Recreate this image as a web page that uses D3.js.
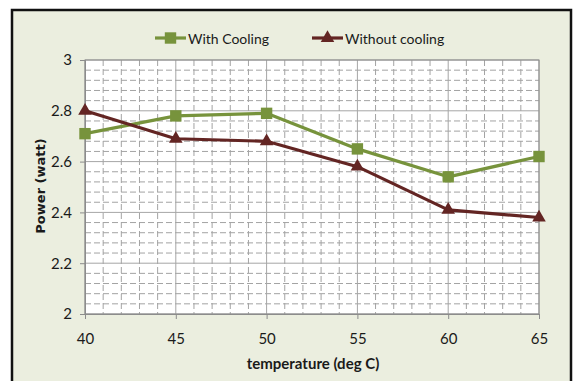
<!DOCTYPE html>
<html>
<head>
<meta charset="utf-8">
<script src="https://cdn.jsdelivr.net/npm/d3@7"></script>
<style>
	body { margin: 0; background: #fff; }
	text { fill: #1a1a1a; }
</style>
</head>
<body>
<div id="app"></div>
<script>
///////////////////////////////////////////////////////////////////////////
//////////////////////////// data /////////////////////////////////////////
///////////////////////////////////////////////////////////////////////////

const temperatures = [40, 45, 50, 55, 60, 65];
const withCooling = [2.71, 2.78, 2.79, 2.65, 2.54, 2.62];
const withoutCooling = [2.8, 2.69, 2.68, 2.58, 2.41, 2.38];
const seriesNames = ["With Cooling", "Without cooling"];
const yTicks = [2, 2.2, 2.4, 2.6, 2.8, 3];
const xTicks = [40, 45, 50, 55, 60, 65];

///////////////////////////////////////////////////////////////////////////
//////////////////////////// drawing function /////////////////////////////
///////////////////////////////////////////////////////////////////////////

const createChart = () => {
	let dimensions = {
		width: 577,
		height: 381,
		margin: { top: 60, right: 38, bottom: 67, left: 85 }
	};
	dimensions.boundedWidth =
		dimensions.width - dimensions.margin.left - dimensions.margin.right;
	dimensions.boundedHeight =
		dimensions.height - dimensions.margin.top - dimensions.margin.bottom;

	const colors = ["#77933c", "#632523"];
	const font = "Lato, 'Open Sans', sans-serif";

	const svg = d3
		.select("#app")
		.append("svg")
		.attr("width", dimensions.width)
		.attr("height", dimensions.height)
		.style("font-family", font);

	// chart frame
	svg
		.append("rect")
		.attr("x", 12)
		.attr("y", 10)
		.attr("width", 559)
		.attr("height", 385)
		.attr("fill", "#ebeedf")
		.attr("stroke", "#111")
		.attr("stroke-width", 2.5);

	const bounds = svg
		.append("g")
		.attr(
			"transform",
			`translate(${dimensions.margin.left},${dimensions.margin.top})`
		);

	//////////////////////////// scales ///////////////////////////////////////

	const xScale = d3
		.scaleLinear()
		.domain([40, 65])
		.range([0, dimensions.boundedWidth]);

	const yScale = d3
		.scaleLinear()
		.domain([2, 3])
		.range([dimensions.boundedHeight, 0]);

	//////////////////////////// grid /////////////////////////////////////////

	bounds
		.append("rect")
		.attr("width", dimensions.boundedWidth)
		.attr("height", dimensions.boundedHeight)
		.attr("fill", "#fff");

	const minorY = d3.range(2, 3.001, 0.04).filter((v) => !yTicks.some((t) => Math.abs(t - v) < 1e-6));
	const minorX = d3.range(40, 65.001, 1).filter((v) => v % 5 !== 0);

	bounds
		.selectAll(".minor-y")
		.data(minorY)
		.join("line")
		.attr("x1", 0)
		.attr("x2", dimensions.boundedWidth)
		.attr("y1", (d) => yScale(d))
		.attr("y2", (d) => yScale(d))
		.attr("stroke", "#a3a3a3")
		.attr("stroke-dasharray", "6,3");

	bounds
		.selectAll(".minor-x")
		.data(minorX)
		.join("line")
		.attr("x1", (d) => xScale(d))
		.attr("x2", (d) => xScale(d))
		.attr("y1", 0)
		.attr("y2", dimensions.boundedHeight)
		.attr("stroke", "#a3a3a3")
		.attr("stroke-dasharray", "6,3");

	bounds
		.selectAll(".major-y")
		.data(yTicks)
		.join("line")
		.attr("x1", 0)
		.attr("x2", dimensions.boundedWidth)
		.attr("y1", (d) => yScale(d))
		.attr("y2", (d) => yScale(d))
		.attr("stroke", "#a6a6a6");

	bounds
		.selectAll(".major-x")
		.data(xTicks)
		.join("line")
		.attr("x1", (d) => xScale(d))
		.attr("x2", (d) => xScale(d))
		.attr("y1", 0)
		.attr("y2", dimensions.boundedHeight)
		.attr("stroke", "#a6a6a6");

	bounds
		.append("rect")
		.attr("width", dimensions.boundedWidth)
		.attr("height", dimensions.boundedHeight)
		.attr("fill", "none")
		.attr("stroke", "#8c8c8c");

	//////////////////////////// axes /////////////////////////////////////////

	const yAxis = bounds
		.append("g")
		.call(d3.axisLeft(yScale).tickValues(yTicks).tickSize(5).tickPadding(8).tickFormat(d3.format("~g")));

	const xAxis = bounds
		.append("g")
		.attr("transform", `translate(0,${dimensions.boundedHeight})`)
		.call(d3.axisBottom(xScale).tickValues(xTicks).tickSize(5).tickPadding(14));

	[yAxis, xAxis].forEach((axis) => {
		axis.attr("font-family", null);
		axis.select(".domain").attr("stroke", "#8c8c8c");
		axis.selectAll(".tick line").attr("stroke", "#8c8c8c");
		axis
			.selectAll(".tick text")
			.attr("font-size", 15)
			.attr("fill", "#222");
	});

	// axis titles
	svg
		.append("text")
		.attr("x", 313)
		.attr("y", 369)
		.attr("text-anchor", "middle")
		.attr("font-size", 15)
		.attr("font-weight", "bold")
		.text("temperature (deg C)");

	svg
		.append("text")
		.attr("transform", "translate(45,186) rotate(-90)")
		.attr("text-anchor", "middle")
		.style("font-family", "'DejaVu Sans', sans-serif")
		.attr("font-size", 13)
		.attr("font-weight", "bold")
		.text("Power (watt)");

	//////////////////////////// lines ////////////////////////////////////////

	const series = [withCooling, withoutCooling].map((vals, i) => ({
		name: seriesNames[i],
		color: colors[i],
		values: vals.map((v, j) => ({ x: temperatures[j], y: v }))
	}));

	const lineGen = d3
		.line()
		.x((d) => xScale(d.x))
		.y((d) => yScale(d.y));

	const square = d3.symbol().type(d3.symbolSquare).size(130);
	const triangle = d3.symbol().type(d3.symbolTriangle).size(80);

	series.forEach((s, i) => {
		bounds
			.append("path")
			.datum(s.values)
			.attr("d", lineGen)
			.attr("fill", "none")
			.attr("stroke", s.color)
			.attr("stroke-width", 3.2)
			.attr("stroke-linejoin", "round");

		bounds
			.selectAll(".mark-" + i)
			.data(s.values)
			.join("path")
			.attr("transform", (d) => `translate(${xScale(d.x)},${yScale(d.y)})`)
			.attr("d", i ? triangle : square)
			.attr("fill", s.color);
	});

	//////////////////////////// legend ///////////////////////////////////////

	const legendX = [155, 312];
	const legend = svg
		.selectAll(".legend")
		.data(series)
		.join("g")
		.attr("transform", (d, i) => `translate(${legendX[i]},38)`);

	legend
		.append("line")
		.attr("x1", 0)
		.attr("x2", 31)
		.attr("stroke", (d) => d.color)
		.attr("stroke-width", 3.2);

	legend
		.append("path")
		.attr("transform", "translate(15.5,0)")
		.attr("d", (d, i) => (i ? triangle : square)())
		.attr("fill", (d) => d.color);

	legend
		.append("text")
		.attr("x", 33)
		.attr("y", 5.5)
		.attr("font-size", 14)
		.text((d) => d.name);
};

createChart();
</script>
</body>
</html>
